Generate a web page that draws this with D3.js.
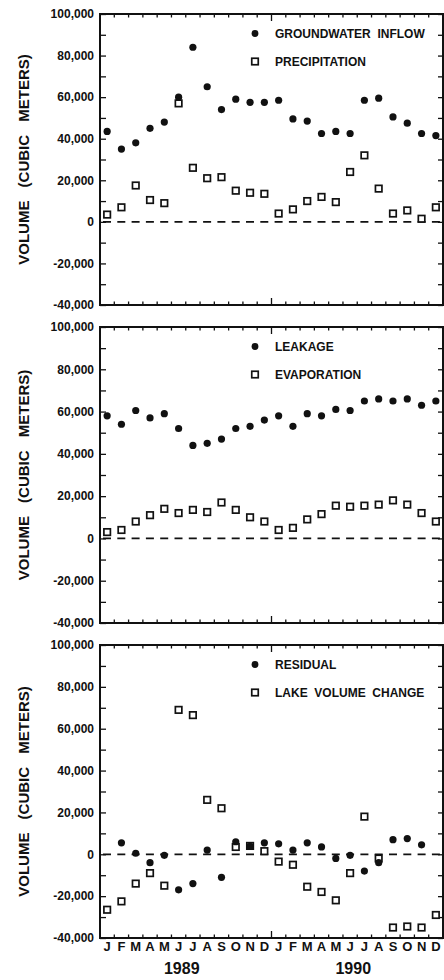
<!DOCTYPE html>
<html>
<head>
<meta charset="utf-8">
<script src="https://cdn.jsdelivr.net/npm/d3@7"></script>
<style>
  body { margin: 0; background: #fff; }
  svg { display: block; font-family: "Liberation Sans", Arial, sans-serif; }
  .tick text { font-size: 12px; font-weight: bold; fill: #111; }
  .months .tick text { font-size: 13px; }
</style>
</head>
<body>
<svg width="444" height="980"></svg>
<script>
// months Jan 1989 .. Dec 1990
const months = ["J","F","M","A","M","J","J","A","S","O","N","D",
                "J","F","M","A","M","J","J","A","S","O","N","D"];
const years = ["1989", "1990"];
const yTicks = d3.range(-40000, 100001, 10000);

// panel 1
const groundwaterInflow = [43500, 35000, 38000, 45000, 48000, 60000, 84000, 65000, 54000, 59000, 57500, 57500,
                           58500, 49500, 48500, 42500, 43500, 42500, 58500, 59500, 50500, 47500, 42500, 41500];
const precipitation = [3500, 7000, 17500, 10500, 9000, 57000, 26000, 21000, 21500, 15000, 14000, 13500,
                       4000, 6000, 10000, 12000, 9500, 24000, 32000, 16000, 4000, 5500, 1500, 7000];
// panel 2
const leakage = [58000, 54000, 60500, 57000, 59000, 52000, 44000, 45000, 47000, 52000, 53000, 56000,
                 58000, 53000, 59000, 58000, 61000, 60500, 65000, 66000, 65000, 66000, 63000, 65000];
const evaporation = [3000, 4000, 8000, 11000, 14000, 12000, 13500, 12500, 17000, 13500, 10000, 8000,
                     4000, 5000, 9000, 11500, 15500, 15000, 15500, 16000, 18000, 16000, 12000, 8000];
// panel 3 (no residual for first and last month)
const residual = [null, 5500, 500, -4000, -500, -17000, -14000, 2000, -11000, 6000, 3800, 5500,
                  5000, 2000, 5500, 3500, -2000, -500, -8000, -4000, 7000, 7500, 4500, null];
const lakeVolumeChange = [-26500, -22500, -14000, -9000, -15000, 69000, 66500, 26000, 22000, 3500, 4000, 1500,
                          -3500, -5000, -15500, -18000, -22000, -9000, 18000, -2000, -35000, -34500, -35000, -29000];

const panels = [
  { top: 14, bottom: 305, circles: groundwaterInflow, squares: precipitation,
    names: ["GROUNDWATER  INFLOW", "PRECIPITATION"] },
  { top: 327, bottom: 623, circles: leakage, squares: evaporation,
    names: ["LEAKAGE", "EVAPORATION"] },
  { top: 645, bottom: 938, circles: residual, squares: lakeVolumeChange,
    names: ["RESIDUAL", "LAKE  VOLUME  CHANGE"] }
];

const left = 100, right = 443;
const sq = 6.5;
const svg = d3.select("svg");

const x = d3.scaleBand().domain(d3.range(24)).range([left, right]);
const xEdge = d3.scaleLinear().domain([0, 24]).range([left, right]);
const fmt = d => d % 20000 === 0 ? d3.format(",")(d).replace("\u2212", "-") : "";

panels.forEach((p, pi) => {
  const y = d3.scaleLinear().domain([-40000, 100000]).range([p.bottom, p.top]);
  const g = svg.append("g");

  // y axes, ticks inward
  g.append("g").attr("transform", `translate(${left},0)`)
    .call(d3.axisLeft(y).tickValues(yTicks).tickSize(-6).tickPadding(6).tickFormat(fmt))
    .call(a => a.select(".domain").remove());
  g.append("g").attr("transform", `translate(${right},0)`)
    .call(d3.axisRight(y).tickValues(yTicks).tickSize(-5).tickFormat(""))
    .call(a => a.select(".domain").remove());

  // month boundary ticks top & bottom
  const bounds = d3.range(1, 24);
  const tickLen = i => i === 12 ? 7 : 3.5;
  g.selectAll(".bt").data(bounds).join("line")
    .attr("x1", d => xEdge(d)).attr("x2", d => xEdge(d))
    .attr("y1", p.bottom).attr("y2", d => p.bottom - tickLen(d))
    .attr("stroke", "#111").attr("stroke-width", 1.3);
  g.selectAll(".tt").data(bounds).join("line")
    .attr("x1", d => xEdge(d)).attr("x2", d => xEdge(d))
    .attr("y1", p.top).attr("y2", d => p.top + tickLen(d))
    .attr("stroke", "#111").attr("stroke-width", 1.3);

  g.selectAll(".tick line").attr("stroke", "#111").attr("stroke-width", 1.3);

  // frame
  g.append("rect")
    .attr("x", left).attr("y", p.top)
    .attr("width", right - left).attr("height", p.bottom - p.top)
    .attr("fill", "none").attr("stroke", "#111").attr("stroke-width", 2);

  // zero line
  g.append("line")
    .attr("x1", left + 3).attr("x2", right)
    .attr("y1", y(0)).attr("y2", y(0))
    .attr("stroke", "#111").attr("stroke-width", 1.8)
    .attr("stroke-dasharray", "8,6.3");

  // axis title
  g.append("text")
    .attr("transform", `translate(23,${(p.top + p.bottom) / 2}) rotate(-90)`)
    .attr("text-anchor", "middle").attr("dominant-baseline", "central")
    .attr("font-size", 15).attr("font-weight", "bold").attr("word-spacing", 9)
    .attr("fill", "#111")
    .text("VOLUME (CUBIC METERS)");

  // squares
  g.selectAll(".sq").data(p.squares).join("rect")
    .attr("x", (d, i) => x(i) + x.bandwidth() / 2 - sq / 2)
    .attr("y", d => y(d) - sq / 2)
    .attr("width", sq).attr("height", sq)
    .attr("fill", "#fff").attr("stroke", "#111").attr("stroke-width", 1.7);

  // circles
  g.selectAll(".ci").data(p.circles.map((v, i) => [i, v]).filter(d => d[1] !== null)).join("circle")
    .attr("cx", d => x(d[0]) + x.bandwidth() / 2)
    .attr("cy", d => y(d[1]))
    .attr("r", 3.6).attr("fill", "#111");

  // legend
  const ly = [p.top + 19.5, p.top + 47.5];
  g.append("circle").attr("cx", 255).attr("cy", ly[0]).attr("r", 3.4).attr("fill", "#111");
  g.append("rect").attr("x", 255 - sq / 2).attr("y", ly[1] - sq / 2).attr("width", sq).attr("height", sq)
    .attr("fill", "#fff").attr("stroke", "#111").attr("stroke-width", 1.7);
  p.names.forEach((n, i) => {
    g.append("text").attr("x", 275).attr("y", ly[i])
      .attr("dominant-baseline", "central")
      .attr("font-size", 12).attr("font-weight", "bold").attr("fill", "#111")
      .style("white-space", "pre")
      .text(n);
  });

  // month + year labels on the last panel
  if (pi === 2) {
    g.append("g").attr("class", "months").attr("transform", `translate(0,${p.bottom})`)
      .call(d3.axisBottom(x).tickSize(0).tickPadding(4).tickFormat(i => months[i]))
      .call(a => a.select(".domain").remove());
    years.forEach((yr, i) => {
      g.append("text")
        .attr("x", xEdge(i * 12 + 6) - 4).attr("y", 974)
        .attr("text-anchor", "middle")
        .attr("font-size", 16).attr("font-weight", "bold").attr("fill", "#111")
        .text(yr);
    });
  }
});
</script>
</body>
</html>
